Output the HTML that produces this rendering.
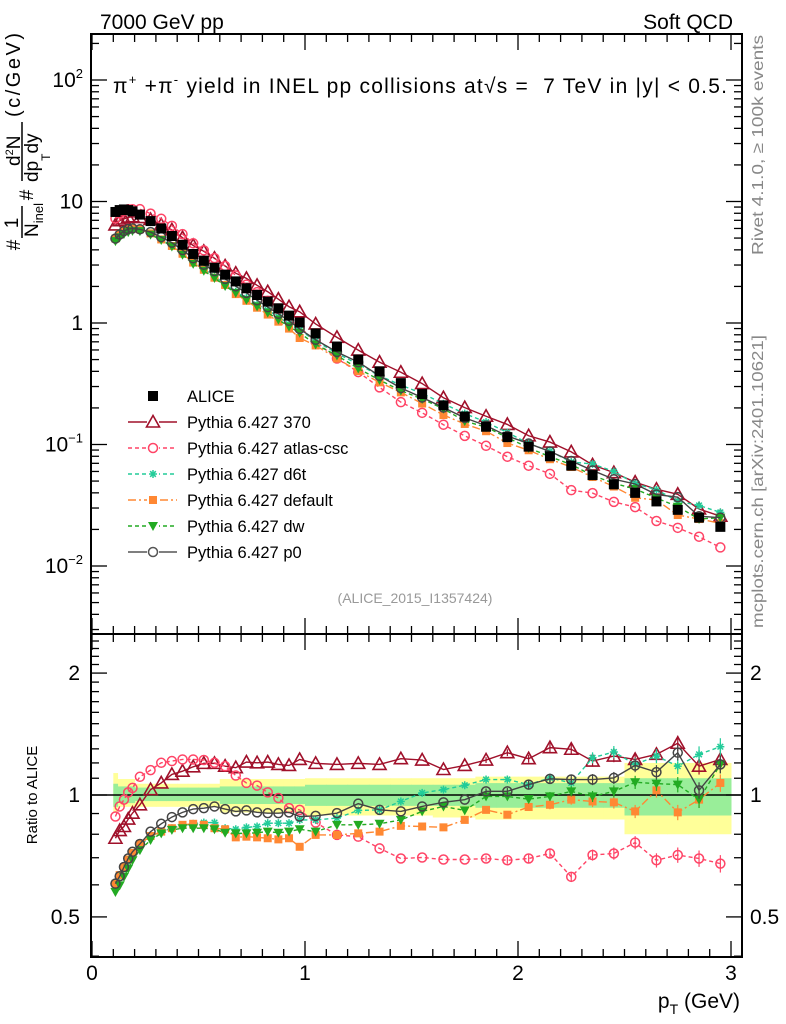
<!DOCTYPE html>
<html><head><meta charset="utf-8"><style>
body{margin:0;background:#fff;}
svg{display:block;font-family:"Liberation Sans",sans-serif;}
</style></head><body>
<svg id="c" width="786" height="1024" viewBox="0 0 786 1024" xmlns="http://www.w3.org/2000/svg">
<text x="100" y="29" font-size="21">7000 GeV pp</text>
<text x="733" y="29" font-size="21" text-anchor="end">Soft QCD</text>
<text x="113" y="93" font-size="21" textLength="614" lengthAdjust="spacing">π<tspan font-size="13" dy="-9">+</tspan><tspan dy="9"> +π</tspan><tspan font-size="13" dy="-9">-</tspan><tspan dy="9"> yield in INEL pp collisions at√s =&#160;&#160;7 TeV in |y| &lt; 0.5.</tspan></text>
<text transform="translate(763,35) rotate(-90)" font-size="16" fill="#888" text-anchor="end" textLength="220" lengthAdjust="spacingAndGlyphs">Rivet 4.1.0, ≥ 100k events</text>
<text transform="translate(763,628) rotate(-90)" font-size="16" fill="#888" textLength="293" lengthAdjust="spacingAndGlyphs">mcplots.cern.ch [arXiv:2401.10621]</text>
<text x="415" y="603" font-size="14" fill="#999" text-anchor="middle">(ALICE_2015_I1357424)</text>
<g transform="rotate(-90)">
<text x="-245" y="20" font-size="19" text-anchor="middle">#</text>
<text x="-223" y="18" font-size="19" text-anchor="middle">1</text>
<line x1="-238" x2="-206" y1="22" y2="22" stroke="#000" stroke-width="1.5"/>
<text x="-237" y="38" font-size="19">N<tspan font-size="13" dy="5">inel</tspan></text>
<text x="-195" y="33" font-size="19" text-anchor="middle">#</text>
<text x="-166" y="20" font-size="19">d<tspan font-size="11" dy="-7">2</tspan><tspan dy="7">N</tspan></text>
<line x1="-181" x2="-122" y1="22" y2="22" stroke="#000" stroke-width="1.5"/>
<text x="-182" y="38" font-size="19">dp<tspan font-size="12" dy="12">T</tspan><tspan dy="-12">dy</tspan></text>
<text x="-117" y="20" font-size="20" textLength="84">(c/GeV)</text>
</g>
<text transform="translate(37,795) rotate(-90)" font-size="15" text-anchor="middle">Ratio to ALICE</text>
<text x="740" y="1008" font-size="21" text-anchor="end">p<tspan font-size="14" dy="6">T</tspan><tspan dy="-6"> (GeV)</tspan></text>
<g id="bands"></g><g id="axes"></g><g id="series"></g><g id="legend"></g>
</svg>
<script>
const pts=[0.11,0.13,0.15,0.17,0.19,0.225,0.275,0.325,0.375,0.425,0.475,0.525,0.575,0.625,0.675,0.725,0.775,0.825,0.875,0.925,0.975,1.05,1.15,1.25,1.35,1.45,1.55,1.65,1.75,1.85,1.95,2.05,2.15,2.25,2.35,2.45,2.55,2.65,2.75,2.85,2.95];
const binEdges=[0.1,0.12,0.14,0.16,0.18,0.2,0.25,0.3,0.35,0.4,0.45,0.5,0.55,0.6,0.65,0.7,0.75,0.8,0.85,0.9,0.95,1.0,1.1,1.2,1.3,1.4,1.5,1.6,1.7,1.8,1.9,2.0,2.1,2.2,2.3,2.4,2.5,2.6,2.7,2.8,2.9,3.0];
const alice=[8.2,8.5,8.6,8.5,8.3,7.8,6.9,6.0,5.2,4.4,3.7,3.25,2.85,2.5,2.2,1.93,1.7,1.5,1.32,1.15,1.01,0.82,0.64,0.50,0.40,0.32,0.26,0.21,0.17,0.14,0.115,0.096,0.080,0.067,0.056,0.047,0.040,0.034,0.029,0.025,0.021];
const yellowUp=[1.133,1.095,1.095,1.095,1.095,1.066,1.066,1.066,1.066,1.066,1.066,1.066,1.066,1.095,1.095,1.095,1.095,1.095,1.095,1.095,1.095,1.10,1.10,1.10,1.10,1.10,1.10,1.10,1.10,1.11,1.11,1.11,1.11,1.11,1.11,1.11,1.20,1.20,1.20,1.20,1.20];
const yellowDn=[0.91,0.935,0.935,0.935,0.935,0.935,0.935,0.935,0.935,0.935,0.935,0.935,0.935,0.905,0.905,0.905,0.905,0.905,0.905,0.905,0.905,0.89,0.89,0.89,0.89,0.89,0.89,0.88,0.88,0.87,0.87,0.87,0.87,0.87,0.87,0.87,0.80,0.80,0.80,0.80,0.80];
const greenUp=[1.066,1.05,1.05,1.05,1.05,1.043,1.043,1.043,1.043,1.043,1.043,1.043,1.043,1.05,1.05,1.05,1.05,1.05,1.05,1.05,1.05,1.06,1.06,1.06,1.06,1.06,1.06,1.06,1.06,1.07,1.07,1.07,1.07,1.07,1.07,1.07,1.10,1.10,1.10,1.10,1.10];
const greenDn=[0.935,0.955,0.955,0.955,0.955,0.966,0.966,0.966,0.966,0.966,0.966,0.966,0.966,0.95,0.95,0.95,0.95,0.95,0.95,0.95,0.95,0.94,0.94,0.94,0.94,0.94,0.94,0.94,0.94,0.93,0.93,0.93,0.93,0.93,0.93,0.93,0.89,0.89,0.89,0.89,0.89];
const r370=[0.782,0.817,0.836,0.872,0.902,0.946,1.031,1.071,1.124,1.145,1.174,1.197,1.197,1.178,1.168,1.206,1.201,1.206,1.190,1.183,1.224,1.197,1.190,1.197,1.190,1.229,1.220,1.156,1.183,1.220,1.272,1.229,1.309,1.297,1.213,1.248,1.224,1.260,1.342,1.178,1.224];
const rAtlas=[0.885,0.937,0.974,1.015,1.041,1.109,1.152,1.201,1.213,1.224,1.224,1.220,1.201,1.178,1.117,1.071,1.055,1.015,0.983,0.928,0.919,0.855,0.797,0.789,0.738,0.697,0.701,0.693,0.693,0.697,0.690,0.697,0.717,0.628,0.711,0.717,0.763,0.690,0.711,0.697,0.677];
const rD6t=[0.604,0.628,0.658,0.684,0.711,0.752,0.789,0.812,0.828,0.839,0.849,0.855,0.855,0.828,0.823,0.832,0.836,0.852,0.852,0.852,0.868,0.868,0.877,0.916,0.919,0.964,1.012,1.031,1.057,1.092,1.092,1.061,1.102,1.071,1.236,1.277,1.190,1.248,1.178,1.260,1.316];
const rDefault=[0.604,0.634,0.664,0.693,0.720,0.757,0.792,0.812,0.828,0.844,0.849,0.844,0.828,0.823,0.786,0.789,0.786,0.782,0.777,0.782,0.745,0.797,0.797,0.804,0.812,0.839,0.836,0.832,0.868,0.919,0.894,0.934,0.946,0.974,0.964,0.959,0.911,1.027,0.906,0.974,1.071];
const rDw=[0.576,0.598,0.628,0.658,0.690,0.731,0.774,0.804,0.820,0.828,0.828,0.828,0.823,0.807,0.804,0.804,0.807,0.812,0.807,0.812,0.823,0.812,0.844,0.844,0.849,0.868,0.911,0.937,0.916,0.992,0.992,0.977,0.992,1.021,0.992,1.021,1.075,1.067,1.061,0.974,1.190];
const rP0=[0.604,0.630,0.664,0.697,0.724,0.757,0.812,0.849,0.882,0.906,0.923,0.928,0.937,0.923,0.911,0.916,0.906,0.902,0.902,0.906,0.885,0.888,0.902,0.952,0.919,0.911,0.937,0.959,0.974,1.021,1.021,1.061,1.096,1.092,1.092,1.102,1.183,1.139,1.272,1.027,1.190];
const xTicks=[0,1,2,3];
const mainTicks=[["10","2",100],["10","",10],["1",null,1],["10","−1",0.1],["10","−2",0.01]];
const ratioTicks=[["2",2],["1",1],["0.5",0.5]];
const legendLabels=["ALICE","Pythia 6.427 370","Pythia 6.427 atlas-csc","Pythia 6.427 d6t","Pythia 6.427 default","Pythia 6.427 dw","Pythia 6.427 p0"];

const L=91,R=742,T=34,M=634,B=957;
const X=p=>92+p*213;
const Y=v=>323-121.5*Math.log10(v);
const YR=r=>795-405*Math.log10(r);
const NS="http://www.w3.org/2000/svg";
function mk(tag,attrs,parent){const e=document.createElementNS(NS,tag);for(const k in attrs)e.setAttribute(k,attrs[k]);parent.appendChild(e);return e;}
const gB=document.getElementById('bands'),gA=document.getElementById('axes'),gS=document.getElementById('series'),gL=document.getElementById('legend');
const defs=mk('defs',{},gA);
const clipR=mk('clipPath',{id:'cr'},defs);mk('rect',{x:L,y:M,width:R-L,height:B-M},clipR);
const clipM=mk('clipPath',{id:'cm'},defs);mk('rect',{x:L,y:T,width:R-L,height:M-T},clipM);

for(let i=0;i<pts.length;i++){
 const x0=X(binEdges[i]),x1=X(binEdges[i+1]);
 const y=mk('rect',{x:x0,y:YR(yellowUp[i]),width:x1-x0+0.5,height:YR(yellowDn[i])-YR(yellowUp[i]),fill:'#ffff99'},gB);
 
 
}
for(let i=0;i<pts.length;i++){
 const x0=X(binEdges[i]),x1=X(binEdges[i+1]);
 const g=mk('rect',{x:x0,y:YR(greenUp[i]),width:x1-x0+0.5,height:YR(greenDn[i])-YR(greenUp[i]),fill:'#99ee99'},gB);
 
 
}
const one=mk('line',{x1:L,x2:R,y1:YR(1),y2:YR(1),stroke:'#000','stroke-width':1.5},gB);



const f1=mk('rect',{x:L,y:T,width:R-L,height:M-T,fill:'none',stroke:'#000','stroke-width':2},gA);


const f2=mk('rect',{x:L,y:M,width:R-L,height:B-M,fill:'none',stroke:'#000','stroke-width':2},gA);


function tk(x1,y1,x2,y2){mk('line',{x1,y1,x2,y2,stroke:'#000','stroke-width':1.3},gA);}
for(let k=0;k<=30;k++){const p=k/10;const x=X(p);if(x>R)break;const maj=(k%10===0);const h=maj?16:8;
 tk(x,T,x,T+h);tk(x,M,x,M-h);tk(x,M,x,M+h);tk(x,B,x,B-h);}
xTicks.forEach(v=>{const t=mk('text',{x:X(v),y:980,'font-size':21,'text-anchor':'middle'},gA);t.textContent=v;
 
 });
for(let d=-3;d<=2;d++){for(let m=1;m<10;m++){const v=m*Math.pow(10,d);const y=Y(v);if(y<T||y>M)continue;const h=m===1?16:8;tk(L,y,L+h,y);tk(R,y,R-h,y);}}
mainTicks.forEach(tv=>{const t=mk('text',{x:83,y:Y(tv[2])+7,'font-size':21,'text-anchor':'end'},gA);
 t.textContent=tv[0];
 if(tv[1]){const s=mk('tspan',{'font-size':13,dy:-9},t);s.textContent=tv[1];}
 
 });
for(let r=0.4;r<=2.51;r+=0.1){const y=YR(r);if(y<M||y>B)continue;const maj=Math.abs(r-1)<1e-6||Math.abs(r-2)<1e-6||Math.abs(r-0.5)<1e-6;const h=maj?16:8;tk(L,y,L+h,y);tk(R,y,R-h,y);}
ratioTicks.forEach(tv=>{const y=YR(tv[1])+7;
 const a=mk('text',{x:80,y,'font-size':21,'text-anchor':'end'},gA);a.textContent=tv[0];
 
 
 const b=mk('text',{x:750,y,'font-size':21},gA);b.textContent=tv[0];
 
 });

function marker(kind,x,y,col,g){
 if(kind==='sq')mk('rect',{x:x-5,y:y-5,width:10,height:10,fill:col},g);
 else if(kind==='sqs')mk('rect',{x:x-4,y:y-4,width:8,height:8,fill:col},g);
 else if(kind==='tri')mk('polygon',{points:`${x},${y-6.5} ${x-6.5},${y+5} ${x+6.5},${y+5}`,fill:'none',stroke:col,'stroke-width':1.6},g);
 else if(kind==='dtri')mk('polygon',{points:`${x-5},${y-4} ${x+5},${y-4} ${x},${y+5}`,fill:col},g);
 else if(kind==='circ')mk('circle',{cx:x,cy:y,r:4.5,fill:'none',stroke:col,'stroke-width':1.5},g);
 else if(kind==='star'){for(let a=0;a<4;a++){const an=a*Math.PI/4;mk('line',{x1:x-4*Math.cos(an),y1:y-4*Math.sin(an),x2:x+4*Math.cos(an),y2:y+4*Math.sin(an),stroke:col,'stroke-width':1.5},g);}}
}
const series=[
 {name:'series-370',r:r370,col:'#a0102a',kind:'tri',dash:''},
 {name:'series-atlas-csc',r:rAtlas,col:'#ff4466',kind:'circ',dash:'4,3'},
 {name:'series-d6t',r:rD6t,col:'#22cc99',kind:'star',dash:'4,3'},
 {name:'series-default',r:rDefault,col:'#ff8833',kind:'sqs',dash:'8,3,2,3'},
 {name:'series-dw',r:rDw,col:'#22aa22',kind:'dtri',dash:'4,3'},
 {name:'series-p0',r:rP0,col:'#444',kind:'circ',dash:''}
];
series.forEach(s=>{
 const gm=mk('g',{'clip-path':'url(#cm)'},gS);
 
 
 const gr=mk('g',{'clip-path':'url(#cr)'},gS);
 
 
 const pm=pts.map((p,i)=>X(p)+','+Y(alice[i]*s.r[i])).join(' ');
 const pr=pts.map((p,i)=>X(p)+','+YR(s.r[i])).join(' ');
 mk('polyline',{points:pm,fill:'none',stroke:s.col,'stroke-width':1.4,'stroke-dasharray':s.dash},gm);
 mk('polyline',{points:pr,fill:'none',stroke:s.col,'stroke-width':1.4,'stroke-dasharray':s.dash},gr);
 pts.forEach((p,i)=>{
  if(p>1.8){const e=0.015+0.03*(p-1.8);const x=X(p);
   mk('line',{x1:x,x2:x,y1:YR(s.r[i]*(1+e)),y2:YR(s.r[i]*(1-e)),stroke:s.col,'stroke-width':1.2},gr);}
  marker(s.kind,X(p),Y(alice[i]*s.r[i]),s.col,gm);
  marker(s.kind,X(p),YR(s.r[i]),s.col,gr);
 });
});
const ga=mk('g',{},gS);


pts.forEach((p,i)=>marker('sq',X(p),Y(alice[i]),'#000',ga));

const legStyle=[['sq','#000',null],['tri','#a0102a',''],['circ','#ff4466','4,3'],['star','#22cc99','4,3'],['sqs','#ff8833','8,3,2,3'],['dtri','#22aa22','4,3'],['circ','#555','']];
legendLabels.forEach((lab,i)=>{
 const y=396+i*26;
 const g=mk('g',{},gL);
 
 
 const st=legStyle[i];
 if(st[2]!==null)mk('line',{x1:128,x2:177,y1:y,y2:y,stroke:st[1],'stroke-width':1.4,'stroke-dasharray':st[2]},g);
 if(st[2]!==null)mk('rect',{x:147,y:y-6,width:12,height:12,fill:'#fff'},g);
 marker(st[0],153,y,st[1],g);
 const t=mk('text',{x:187,y:y+6,'font-size':16.5},g);t.textContent=lab;
});
</script>
</body></html>
